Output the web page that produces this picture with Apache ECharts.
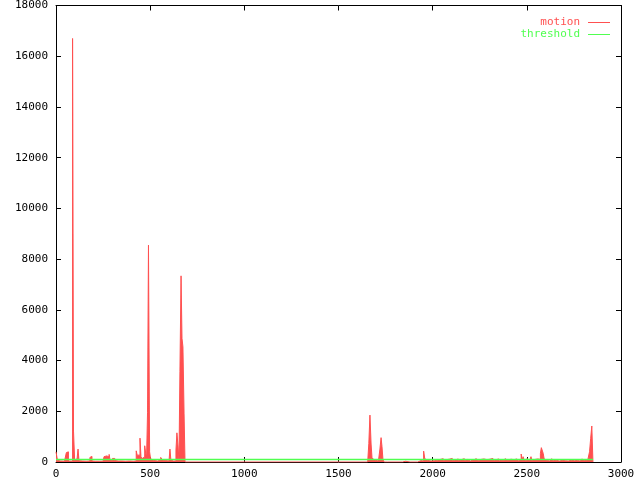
<!DOCTYPE html>
<html>
<head>
<meta charset="utf-8">
<script src="https://cdn.jsdelivr.net/npm/echarts@6/dist/echarts.min.js"></script>
<style>html,body{margin:0;padding:0;background:#fff;}#c{width:640px;height:480px;}</style>
</head>
<body>
<div id="c"></div>
<script>
// x ticks and y ticks
const xTicks = [0, 500, 1000, 1500, 2000, 2500, 3000];
const yTicks = [0, 2000, 4000, 6000, 8000, 10000, 12000, 14000, 16000, 18000];
// motion samples [frame, value]
const motionPoints = [
[0,400],[8,60],[15,40],[25,60],[35,30],[45,50],[55,370],[60,400],[66,40],[75,30],
[88,16700],[93,1220],[99,60],[105,130],[112,130],[117,510],[122,50],[130,40],[140,60],[150,30],
[160,50],[170,40],[180,180],[185,220],[191,40],[200,30],[210,50],[220,30],[230,40],[240,30],
[250,60],[255,210],[260,160],[265,240],[270,200],[276,200],[282,300],[287,80],[293,60],[300,140],
[306,140],[312,60],[320,40],[330,60],[340,40],[350,50],[360,30],[370,50],[380,40],[390,60],
[400,30],[410,50],[420,40],[426,440],[431,270],[436,250],[441,270],[446,940],[451,220],[456,130],
[461,60],[466,200],[471,640],[476,350],[481,180],[486,1940],[491,8550],[497,400],[502,130],[507,130],
[512,60],[520,50],[530,40],[540,60],[550,80],[556,180],[561,130],[566,80],[572,60],[580,50],
[590,40],[600,60],[605,510],[610,80],[615,40],[622,60],[630,40],[637,470],[642,1150],[648,630],
[653,60],[658,3560],[664,7340],[669,4880],[674,4540],[680,1900],[685,0],
[1655,60],[1661,730],[1667,1850],[1673,710],[1678,150],[1684,80],[1692,60],[1700,40],[1712,80],
[1720,510],[1726,960],[1731,600],[1736,100],[1742,0],[1760,40],[1768,0],[1800,50],[1806,0],
[1840,60],[1848,30],[1856,0],[1880,50],[1888,0],[1920,40],[1930,60],[1940,30],[1952,430],[1958,130],
[1966,60],[1975,110],[1983,40],[1992,90],[2000,50],[2008,120],[2016,70],[2024,40],[2032,100],[2040,60],
[2048,130],[2056,50],[2064,90],[2072,40],[2080,110],[2088,70],[2096,140],[2104,50],[2112,80],[2120,60],
[2128,120],[2136,40],[2144,90],[2152,70],[2160,130],[2168,50],[2176,100],[2184,60],[2192,40],[2200,110],
[2208,80],[2216,50],[2224,130],[2232,70],[2240,40],[2248,100],[2256,60],[2264,120],[2272,50],[2280,90],
[2288,40],[2296,110],[2304,70],[2312,140],[2320,50],[2328,90],[2336,60],[2344,120],[2352,40],[2360,80],
[2368,100],[2376,50],[2384,130],[2392,70],[2400,40],[2408,110],[2416,60],[2424,90],[2432,50],[2440,120],
[2448,70],[2456,40],[2463,100],[2470,315],[2475,60],[2480,210],[2485,90],[2492,50],[2500,130],[2508,70],
[2516,40],[2522,210],[2527,60],[2535,100],[2543,50],[2551,120],[2559,70],[2567,100],[2572,340],[2577,565],
[2582,565],[2587,340],[2592,120],[2600,60],[2608,100],[2616,40],[2624,90],[2632,130],[2640,50],[2648,70],
[2656,110],[2664,40],[2672,90],[2680,60],[2688,120],[2696,50],[2704,80],[2712,40],[2720,100],[2728,70],
[2736,130],[2744,50],[2752,90],[2760,60],[2768,110],[2776,40],[2784,80],[2792,120],[2800,50],[2808,70],
[2816,100],[2824,60],[2833,405],[2839,935],[2845,1420],[2851,0]
];
// threshold level and extent
const thresholdPoints = [[0,100],[2851,100]];

const RED = '#ff5050', GREEN = '#50ff50';
const FONT = 'DejaVu Sans Mono';
const chart = echarts.init(document.getElementById('c'), null, {renderer:'canvas'});
const axCommon = {
  axisLine:{show:true,onZero:false,lineStyle:{color:'#000',width:1}},
  axisTick:{show:true,inside:true,length:5,lineStyle:{color:'#000'}},
  splitLine:{show:false}
};
const plain = v => String(v);
chart.setOption({
  animation:false,
  backgroundColor:'#fff',
  grid:{left:56,right:19,top:5,bottom:18,containLabel:false},
  legend:{
    orient:'vertical', right:30, top:17, align:'right', padding:0,
    icon:'rect', itemWidth:22, itemHeight:1, itemGap:1,
    textStyle:{fontFamily:FONT,fontSize:11,lineHeight:11,padding:[0,3,0,0]},
    data:[{name:'motion',textStyle:{color:RED},itemStyle:{color:RED}},
          {name:'threshold',textStyle:{color:GREEN},itemStyle:{color:GREEN}}]
  },
  xAxis:[
    Object.assign({type:'value',position:'bottom',min:xTicks[0],max:xTicks[xTicks.length-1],interval:xTicks[1]-xTicks[0],
      axisLabel:{fontFamily:FONT,fontSize:11,color:'#000',margin:7,formatter:plain}},axCommon),
    Object.assign({type:'value',position:'top',min:xTicks[0],max:xTicks[xTicks.length-1],interval:xTicks[1]-xTicks[0],
      axisLabel:{show:false}},axCommon)
  ],
  yAxis:[
    Object.assign({type:'value',position:'left',min:yTicks[0],max:yTicks[yTicks.length-1],interval:yTicks[1]-yTicks[0],
      axisLabel:{fontFamily:FONT,fontSize:11,color:'#000',margin:8,formatter:plain}},axCommon),
    Object.assign({type:'value',position:'right',min:yTicks[0],max:yTicks[yTicks.length-1],interval:yTicks[1]-yTicks[0],
      axisLabel:{show:false}},axCommon)
  ],
  series:[
    {name:'motion',type:'line',step:'end',data:motionPoints,showSymbol:false,symbol:'none',
     lineStyle:{color:RED,width:1},itemStyle:{color:RED},areaStyle:{color:RED,opacity:1},z:2},
    {name:'threshold',type:'line',data:thresholdPoints,showSymbol:false,symbol:'none',
     lineStyle:{color:GREEN,width:1.5},itemStyle:{color:GREEN},z:3}
  ]
});
</script>
</body>
</html>
